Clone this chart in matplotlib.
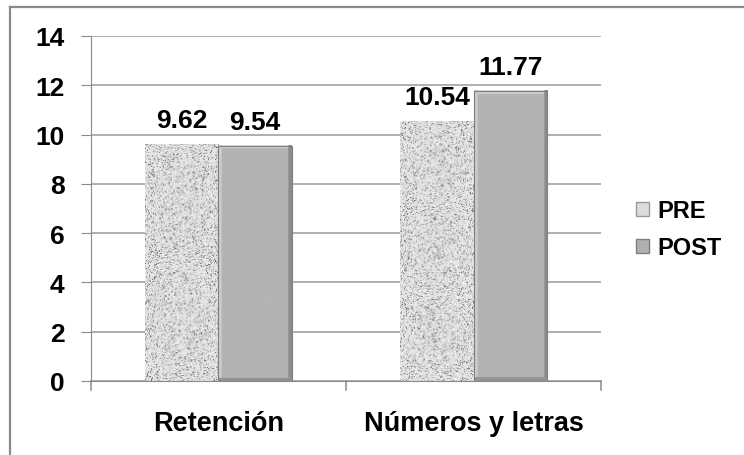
import numpy as np
import matplotlib.pyplot as plt
from matplotlib.patches import Rectangle
from matplotlib.lines import Line2D

plt.rcParams['font.family'] = ['Liberation Sans', 'DejaVu Sans']
plt.rcParams['font.weight'] = 'bold'

categories = ['Retención', 'Números y letras']
series = ['PRE', 'POST']
pre = [9.62, 10.54]
post = [9.54, 11.77]

fig = plt.figure(figsize=(7.44, 4.56), dpi=100)
# frame around the chart area (only left/top edges inside the image)
fig.add_artist(Line2D([0.0141, 0.0141], [0, 0.982], color='#8a8a8a', lw=1.6))
fig.add_artist(Line2D([0.0141, 1.0], [0.982, 0.982], color='#8a8a8a', lw=1.6))

ax = fig.add_axes([0.1223, 0.1623, 0.6855, 0.7566])
ax.set_xlim(-0.5, 1.5)
ax.set_ylim(0, 14)
ax.set_yticks(range(0, 15, 2))
ax.yaxis.grid(True, color='#9a9a9a', lw=1.1)
ax.set_axisbelow(True)
for s in ['top', 'right']:
    ax.spines[s].set_visible(False)
ax.spines['left'].set_color('#8a8a8a')
ax.spines['bottom'].set_color('#8a8a8a')
ax.tick_params(axis='y', length=7, color='#8a8a8a', labelsize=19, pad=12)
ax.set_xticks([])
# category separators on the x axis
for xv in [-0.5, 0.5, 1.5]:
    ax.plot([xv, xv], [0, -0.35], color='#8a8a8a', lw=1.1, clip_on=False)
for i, cat in enumerate(categories):
    ax.annotate(cat, xy=(i, 0), xycoords='data', xytext=(0, -35),
                textcoords='offset points', ha='center', va='baseline',
                fontsize=19.5, annotation_clip=False)

w = 0.287
rng = np.random.default_rng(7)


def stipple(x0, h):
    rect = Rectangle((x0, 0), w, h, facecolor='none', edgecolor='none')
    ax.add_patch(rect)
    noise = rng.random((int(h * 25), 75))
    img = 0.95 - 0.55 * noise ** 7 - 0.10 * rng.random(noise.shape)
    im = ax.imshow(img, cmap='gray', vmin=0, vmax=1, extent=[x0, x0 + w, 0, h],
                   aspect='auto', interpolation='bilinear', zorder=2)
    im.set_clip_path(rect)


def bevel(x0, h):
    ny, nx = 300, 60
    img = np.full((ny, nx), 0.70)
    img[:4, :] = np.linspace(0.86, 0.80, 4)[:, None]
    img[:, :3] = 0.80
    img[:, -3:] = 0.55
    img[-4:, :] = 0.58
    ax.imshow(img, cmap='gray', vmin=0, vmax=1, extent=[x0, x0 + w, 0, h],
              aspect='auto', interpolation='bilinear', zorder=2)
    ax.add_patch(Rectangle((x0, 0), w, h, facecolor='none',
                           edgecolor='#7e7e7e', lw=0.8, zorder=3))


for i in range(len(categories)):
    x_pre = i - w
    x_post = i
    stipple(x_pre, pre[i])
    bevel(x_post, post[i])
    for x0, v in [(x_pre, pre[i]), (x_post, post[i])]:
        ax.annotate(f'{v:.2f}', xy=(x0 + w / 2, v), xytext=(0, 12.5),
                    textcoords='offset points', ha='center', va='baseline',
                    fontsize=19, zorder=4)
ax.set_xlim(-0.5, 1.5)
ax.set_ylim(0, 14)

# legend
handles = [Rectangle((0, 0), 1, 1, facecolor='#dcdcdc', edgecolor='#9a9a9a'),
           Rectangle((0, 0), 1, 1, facecolor='#b0b0b0', edgecolor='#7e7e7e')]
fig.legend(handles, series, loc='center left', bbox_to_anchor=(0.826, 0.495),
           frameon=False, fontsize=17, handlelength=0.55, handleheight=0.55,
           handletextpad=0.35, labelspacing=0.6)

fig.savefig('out.png', dpi=100)
